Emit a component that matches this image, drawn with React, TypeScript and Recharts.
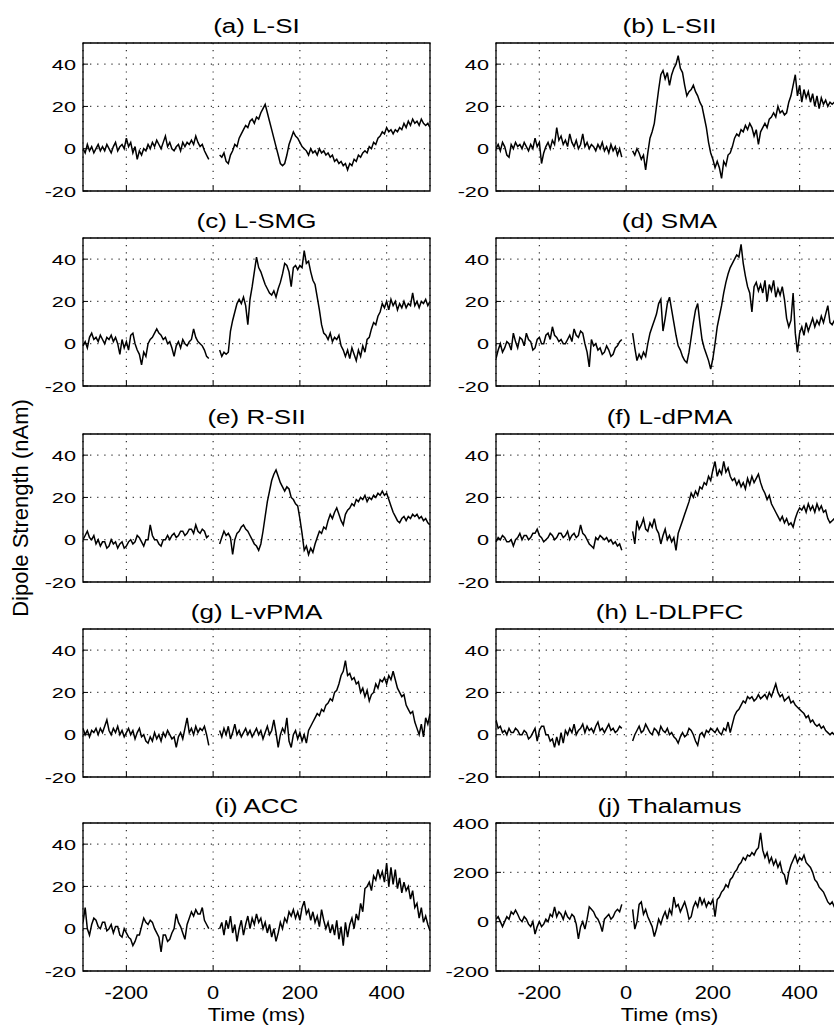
import { LineChart, Line, XAxis, YAxis, CartesianGrid, ReferenceArea } from 'recharts';

const FONT = '"Liberation Sans", Arial, Helvetica, sans-serif';

// sampling grid (ms): pre-stimulus and post-stimulus segments, gap around 0
const preTimes = Array.from({ length: 59 }, (_, i) => -300 + i * 5);
const postTimes = Array.from({ length: 98 }, (_, i) => 15 + i * 5);

const xTicks = [-200, 0, 200, 400];
const yTicksNAm = [-20, 0, 20, 40];
const yTicksThalamus = [-200, 0, 200, 400];

const titles = [
  '(a) L-SI', '(b) L-SII', '(c) L-SMG', '(d) SMA', '(e) R-SII',
  '(f) L-dPMA', '(g) L-vPMA', '(h) L-DLPFC', '(i) ACC', '(j) Thalamus',
];

// (a) L-SI
const lsiPre = [0, -2, 2, -1, 1, -2, 0, 2, -1, 1, -1, 2, 0, -2, 1, 3, -1, 1, 2, 0, 5, 1, 3, -2, 1, -5, -1, -3, 0, -1, 2, 0, 3, 1, 4, 2, 0, 3, 6, 1, 3, 0, -1, 1, 2, -1, 3, 1, 3, 2, 4, 2, 6, 3, 1, 2, -1, -3, -5];
const lsiPost = [-3, -4, -2, -6, -7, -3, -1, 2, 1, 5, 7, 9, 11, 10, 13, 14, 12, 15, 14, 17, 19, 21, 17, 13, 9, 5, 1, -3, -7, -8, -7, -3, 2, 5, 8, 6, 5, 3, 1, 0, -1, -3, 0, -2, -1, -3, 0, -2, -1, -3, -2, -4, -3, -6, -5, -7, -6, -8, -7, -10, -7, -8, -5, -6, -3, -4, -2, -1, -2, 1, 0, 3, 2, 5, 6, 8, 7, 10, 8, 9, 7, 9, 8, 10, 9, 12, 10, 13, 11, 14, 12, 13, 11, 14, 12, 11, 12, 10];

// (b) L-SII
const lsiiPre = [0, 2, -1, 3, 1, -3, -4, 2, 0, 3, 1, 2, 0, 3, 1, -1, 2, 0, 5, 1, 3, -7, -2, 1, 3, 0, 4, 2, 10, 4, 6, 2, 4, 1, 7, 3, 1, 4, 0, 2, 7, 1, 3, 0, 2, 1, -1, 2, 0, 3, -1, 1, -2, 2, -1, 1, -3, 0, -4];
const lsiiPost = [-1, -3, 0, -2, -5, -3, -10, -2, 5, 8, 12, 20, 28, 35, 37, 33, 36, 30, 35, 38, 40, 44, 38, 36, 30, 25, 27, 28, 30, 27, 25, 22, 20, 15, 10, 3, -2, -5, -9, -6, -9, -14, -6, -8, -3, -2, 1, 5, 7, 6, 9, 8, 11, 9, 12, 10, 6, 9, 2, 8, 10, 12, 10, 14, 15, 17, 15, 20, 17, 18, 16, 17, 22, 25, 30, 35, 25, 30, 22, 28, 24, 27, 22, 26, 20, 25, 19, 24, 21, 23, 20, 22, 21, 22, 20, 22, 21, 22];

// (c) L-SMG
const lsmgPre = [-1, 1, -2, 3, 5, 2, 3, 1, 4, 2, 0, 3, 2, 4, 1, 3, 0, -5, 2, -2, 1, -3, 4, 5, 0, -3, -5, -10, -4, -6, 0, 2, 3, 5, 7, 5, 4, 2, 3, 0, 1, -2, -6, -1, 1, -2, 2, 0, -1, 1, 2, 7, 3, 1, 0, -1, -3, -6, -7];
const lsmgPost = [-3, -6, -4, -5, -4, 6, 11, 15, 19, 21, 19, 22, 18, 9, 21, 27, 34, 41, 36, 34, 31, 28, 26, 24, 23, 25, 22, 26, 29, 33, 38, 37, 34, 27, 36, 37, 35, 37, 36, 44, 38, 39, 34, 30, 28, 22, 16, 9, 5, 4, 2, 5, 1, 3, 2, 4, -1, -3, -6, -3, -7, -2, -5, -8, -3, -6, -1, -4, 2, 3, 7, 10, 9, 13, 15, 19, 17, 20, 16, 21, 18, 20, 16, 19, 17, 20, 17, 19, 18, 24, 18, 20, 17, 20, 19, 21, 18, 20];

// (d) SMA
const smaPre = [-7, -3, 0, -4, -2, 1, 0, -3, 5, 1, -2, 3, 2, -1, 5, 2, 1, -3, -2, 2, 3, 0, 0, 4, 5, 2, 8, 4, 3, 1, 2, 0, 0, 2, 4, 1, 7, 4, 3, 6, 5, 0, -4, -11, 2, -1, 0, -3, -2, -5, -4, -1, -3, -6, -5, -2, -1, 1, 2];
const smaPost = [5, -2, -8, -5, -7, -4, -6, 0, 5, 8, 11, 14, 19, 21, 6, 12, 19, 22, 16, 10, 4, -1, -3, -6, -8, -9, -4, 3, 10, 16, 19, 10, 2, -2, -5, -8, -12, -7, 0, 8, 13, 18, 24, 29, 33, 36, 38, 40, 42, 41, 47, 38, 32, 27, 24, 15, 27, 29, 25, 28, 24, 30, 20, 28, 25, 30, 22, 26, 23, 27, 21, 12, 8, 11, 24, 5, -4, 5, 8, 4, 10, 6, 9, 12, 8, 11, 9, 13, 10, 14, 18, 10, 9, 11, 9, 12, 10, 11];

// (e) R-SII
const rsiiPre = [0, 2, 4, 1, 0, 2, -2, 0, -3, -1, -1, -4, -3, 0, -2, -1, -4, -2, -1, -4, -3, -1, 0, -2, -1, 2, 1, -1, -3, 0, 0, 7, 2, 0, 0, -2, -3, 0, 0, 2, 0, 2, 3, 1, 2, 4, 4, 2, 3, 5, 5, 3, 7, 4, 3, 5, 4, 1, 2];
const rsiiPost = [-2, 1, 4, 2, 3, 1, -7, 0, 3, 4, 6, 7, 5, 4, 2, 0, -2, -3, -5, -2, 4, 11, 18, 23, 28, 31, 33, 30, 27, 25, 23, 25, 24, 20, 19, 17, 16, 10, 3, -5, -3, -7, -4, -6, -2, 1, 4, 3, 6, 5, 9, 12, 10, 13, 15, 12, 9, 7, 12, 14, 15, 17, 16, 19, 18, 20, 19, 21, 18, 20, 19, 21, 20, 22, 21, 23, 21, 22, 19, 16, 13, 11, 9, 8, 10, 11, 9, 11, 10, 12, 11, 12, 10, 11, 9, 10, 8, 7];

// (f) L-dPMA
const dpmaPre = [-1, 1, 0, 2, 1, -1, -1, 0, -3, 0, 1, 3, 0, 2, 2, 0, 1, 3, 3, 5, 2, 1, -1, 0, 1, 3, 2, 0, 1, 3, 3, 1, 2, 4, 0, 2, 3, 1, 2, 7, 3, 2, 0, -2, -3, -4, 1, 0, 2, 1, 0, 1, -1, 0, -2, -1, -3, -2, -5];
const dpmaPost = [4, -2, 9, 5, 7, 10, 5, 4, 8, 6, 10, 5, 3, -2, 2, 5, 0, 2, -1, 1, -5, 3, 6, 9, 12, 15, 18, 22, 20, 23, 21, 25, 24, 27, 26, 30, 28, 33, 37, 30, 33, 31, 37, 32, 34, 30, 28, 29, 26, 28, 25, 27, 24, 29, 26, 30, 27, 29, 31, 27, 24, 22, 19, 21, 17, 15, 13, 11, 9, 11, 8, 10, 7, 8, 6, 10, 13, 15, 14, 16, 13, 17, 14, 16, 13, 17, 14, 16, 13, 14, 10, 8, 9, 10, 8, 9, 7, 8];

// (g) L-vPMA
const vpmaPre = [3, 0, 2, -1, 2, 1, 3, 0, 3, 1, 4, 7, 2, 0, 3, 1, 4, 0, 2, -1, 1, 3, 0, 2, -2, 1, 3, -1, 0, -3, -4, -1, -3, 1, -2, 0, -3, 1, -1, 2, 0, -2, -1, -6, -1, 1, -2, 3, 8, 1, 3, 0, 4, 1, 3, 2, 4, 0, -5];
const vpmaPost = [2, -1, 3, 0, 4, -2, 1, 5, 0, 2, -1, 1, 3, 0, 2, -1, 1, 3, 0, 2, -2, 1, 4, 0, 2, 7, 1, -6, 0, 3, 1, 8, -3, -6, 0, 2, -2, 1, -3, 0, -4, 2, 4, 6, 8, 10, 9, 12, 11, 14, 15, 17, 16, 20, 21, 24, 28, 30, 35, 28, 29, 26, 27, 24, 25, 20, 22, 18, 21, 16, 19, 20, 24, 22, 26, 25, 27, 24, 28, 26, 30, 26, 22, 20, 18, 19, 14, 12, 10, 11, 6, 3, 0, 5, -1, 8, 5, 10];

// (h) L-DLPFC
const dlpfcPre = [7, 3, 4, 1, 2, 0, 3, 1, 1, 3, 2, 0, 0, 2, 1, -2, -1, 1, 3, -3, 2, 4, 4, 0, 0, -3, -2, -6, -1, -5, 1, -4, 2, 0, 3, 1, 5, 0, 2, 3, 5, 1, 4, 2, 3, 1, 4, 6, 2, 3, 1, 3, 5, 2, 3, 1, 2, 4, 3];
const dlpfcPost = [-3, 0, 2, 4, 1, 2, 5, 3, 1, 0, 3, 2, 0, 4, 2, 1, 3, 0, 1, -1, -2, -4, -1, 1, -1, 0, 3, 2, 0, -3, -5, 0, 1, -1, 2, 1, 3, 2, 1, 3, 1, 0, 3, 2, 6, 1, 5, 9, 11, 12, 14, 16, 15, 18, 17, 18, 16, 17, 19, 17, 18, 19, 17, 20, 18, 21, 24, 20, 18, 19, 16, 17, 18, 15, 16, 14, 13, 12, 11, 10, 8, 9, 6, 7, 5, 4, 5, 3, 4, 2, 1, 0, 1, 0, 1, -1, 0, 1];

// (i) ACC
const accPre = [3, 10, 0, -3, 2, 5, 4, 1, 0, 3, 3, -1, 0, 2, -2, 1, 1, -3, -4, 0, -2, -4, -5, -8, -6, -3, -3, 1, 5, 3, 2, 4, 3, 0, -2, -4, -11, -3, -3, -6, -5, -2, 0, 7, 3, 1, -2, -5, 2, 5, 8, 6, 9, 7, 7, 10, 4, 2, 0];
const accPost = [0, 3, -3, 4, 0, 6, -2, 2, -6, 0, 4, -3, 2, 6, 0, 5, 2, 7, 3, 5, 0, 3, -2, 2, -4, 0, -6, -2, 3, 0, 5, 3, 8, 6, 9, 5, 8, 4, 10, 13, 7, 9, 4, 8, 3, 6, 1, 9, 4, 0, 3, -2, 2, -3, 4, -5, 1, -8, 3, -4, 2, 5, 0, 7, 4, 12, 8, 19, 20, 22, 18, 25, 23, 28, 24, 27, 22, 31, 20, 29, 21, 28, 19, 24, 17, 22, 18, 20, 14, 18, 10, 12, 5, 10, 3, 6, 2, -1];

// (j) Thalamus
const thalPre = [10, 20, 0, -20, 0, 20, 10, 40, 30, 47, 30, 10, 0, 20, 10, -10, -20, 0, -50, -20, 0, -20, -10, 10, 0, 30, 20, 60, 20, 40, 30, 10, 40, 20, 10, 30, 20, -10, -70, -20, 0, -30, 10, 60, 50, 40, 20, 10, -10, -40, 10, 20, 30, 10, 20, 40, 50, 40, 70];
const thalPost = [50, -30, 0, 70, 80, 30, 50, 20, 0, -20, -60, -30, 10, -10, 20, 40, 10, 50, 30, 100, 60, 70, 40, 60, 80, 50, 10, 20, 60, 80, 60, 100, 70, 90, 60, 80, 70, 90, 20, 90, 100, 120, 130, 150, 140, 170, 180, 200, 210, 230, 240, 260, 250, 270, 265, 280, 270, 290, 300, 360, 290, 260, 280, 240, 260, 230, 250, 220, 240, 200, 190, 150, 200, 230, 250, 270, 240, 260, 250, 270, 240, 230, 220, 200, 170, 160, 140, 130, 120, 100, 80, 70, 80, 60, 70, 50, 60, 40];

const pres = [lsiPre, lsiiPre, lsmgPre, smaPre, rsiiPre, dpmaPre, vpmaPre, dlpfcPre, accPre, thalPre];
const posts = [lsiPost, lsiiPost, lsmgPost, smaPost, rsiiPost, dpmaPost, vpmaPost, dlpfcPost, accPost, thalPost];

const YAXIS_W = 70;
const PLOT_W = 347;
const PLOT_H = 148;
const TOP_PAD = 10;
const colLeft = [83, 496];
const rowTop = [43, 238, 434, 629, 823];

function YTick(props: any) {
  const { x, y, payload } = props;
  const axisX = x + 7;
  return (
    <g>
      <line x1={axisX} x2={axisX + 5} y1={y} y2={y} stroke="#000" strokeWidth={1} />
      <text
        transform={`translate(${x},${y}) scale(1.4,1)`}
        dy="0.36em"
        textAnchor="end"
        fontSize={15.5}
        fontFamily={FONT}
        fill="#000"
      >
        {payload.value}
      </text>
    </g>
  );
}

function XTick(props: any) {
  const { x, y, payload, showLabel } = props;
  const axisY = y - 6;
  return (
    <g>
      <line x1={x} x2={x} y1={axisY} y2={axisY - 5} stroke="#000" strokeWidth={1} />
      {showLabel && (
        <text
          transform={`translate(${x},${axisY + 27.5}) scale(1.15,1)`}
          textAnchor="middle"
          fontSize={19}
          fontFamily={FONT}
          fill="#000"
        >
          {payload.value}
        </text>
      )}
    </g>
  );
}

const renderTimeLabel = (props: any) => {
  const vb = props && props.viewBox;
  if (!vb) return null;
  return (
    <text
      transform={`translate(${vb.x + vb.width / 2},${vb.y + 50}) scale(1.15,1)`}
      textAnchor="middle"
      fontSize={19}
      fontFamily={FONT}
      fill="#000"
    >
      Time (ms)
    </text>
  );
};

function Panel({ index }: { index: number }) {
  const col = index % 2;
  const row = Math.floor(index / 2);
  const bottom = row === 4;
  const thalamus = index === 9;
  const domain = thalamus ? [-200, 400] : [-20, 50];
  const ticks = thalamus ? yTicksThalamus : yTicksNAm;
  const xh = bottom ? 56 : 14;
  const pre = pres[index];
  const post = posts[index];

  const data = [
    ...preTimes.map((t, i) => ({ t, v: pre[i] })),
    { t: 0, v: null },
    ...postTimes.map((t, i) => ({ t, v: post[i] })),
  ];

  return (
    <>
      <div
        style={{
          position: 'absolute',
          left: colLeft[col],
          top: rowTop[row] - 27.4,
          width: PLOT_W,
          textAlign: 'center',
          fontSize: 20,
          lineHeight: '20px',
          fontFamily: FONT,
          whiteSpace: 'nowrap',
          transform: 'scaleX(1.3)',
          color: '#000',
        }}
      >
        {titles[index]}
      </div>
      <div style={{ position: 'absolute', left: colLeft[col] - YAXIS_W, top: rowTop[row] - TOP_PAD }}>
        <LineChart
          width={YAXIS_W + PLOT_W + 2}
          height={TOP_PAD + PLOT_H + xh}
          data={data}
          margin={{ top: TOP_PAD, right: 2, left: 0, bottom: 0 }}
        >
          <CartesianGrid stroke="#333" strokeWidth={1.2} strokeDasharray="1.2 5.9" />
          <XAxis
            dataKey="t"
            type="number"
            domain={[-300, 500]}
            ticks={xTicks}
            interval={0}
            height={xh}
            axisLine={false}
            tickLine={false}
            tickSize={6}
            tickMargin={0}
            tick={<XTick showLabel={bottom} />}
            allowDataOverflow
            label={bottom ? renderTimeLabel : undefined}
          />
          <YAxis
            type="number"
            domain={domain}
            ticks={ticks}
            interval={0}
            width={YAXIS_W}
            axisLine={false}
            tickLine={false}
            tickSize={7}
            tickMargin={0}
            tick={<YTick />}
            allowDataOverflow
          />
          <ReferenceArea
            x1={-300}
            x2={500}
            y1={domain[0]}
            y2={domain[1]}
            fill="none"
            stroke="#000"
            strokeWidth={1.3}
          />
          <Line
            dataKey="v"
            type="linear"
            stroke="#000"
            strokeWidth={1.5}
            dot={false}
            connectNulls={false}
            isAnimationActive={false}
          />
        </LineChart>
      </div>
    </>
  );
}

export default function App() {
  return (
    <div
      style={{
        position: 'absolute',
        left: 0,
        top: 0,
        width: 834,
        height: 1027,
        overflow: 'hidden',
        background: '#fff',
      }}
    >
      <div
        style={{
          position: 'absolute',
          left: 20.5 - 150,
          top: 508 - 12,
          width: 300,
          height: 24,
          lineHeight: '24px',
          fontSize: 22,
          textAlign: 'center',
          fontFamily: FONT,
          transform: 'rotate(-90deg)',
          color: '#000',
          whiteSpace: 'nowrap',
        }}
      >
        Dipole Strength (nAm)
      </div>
      {titles.map((_, i) => (
        <Panel key={i} index={i} />
      ))}
    </div>
  );
}
